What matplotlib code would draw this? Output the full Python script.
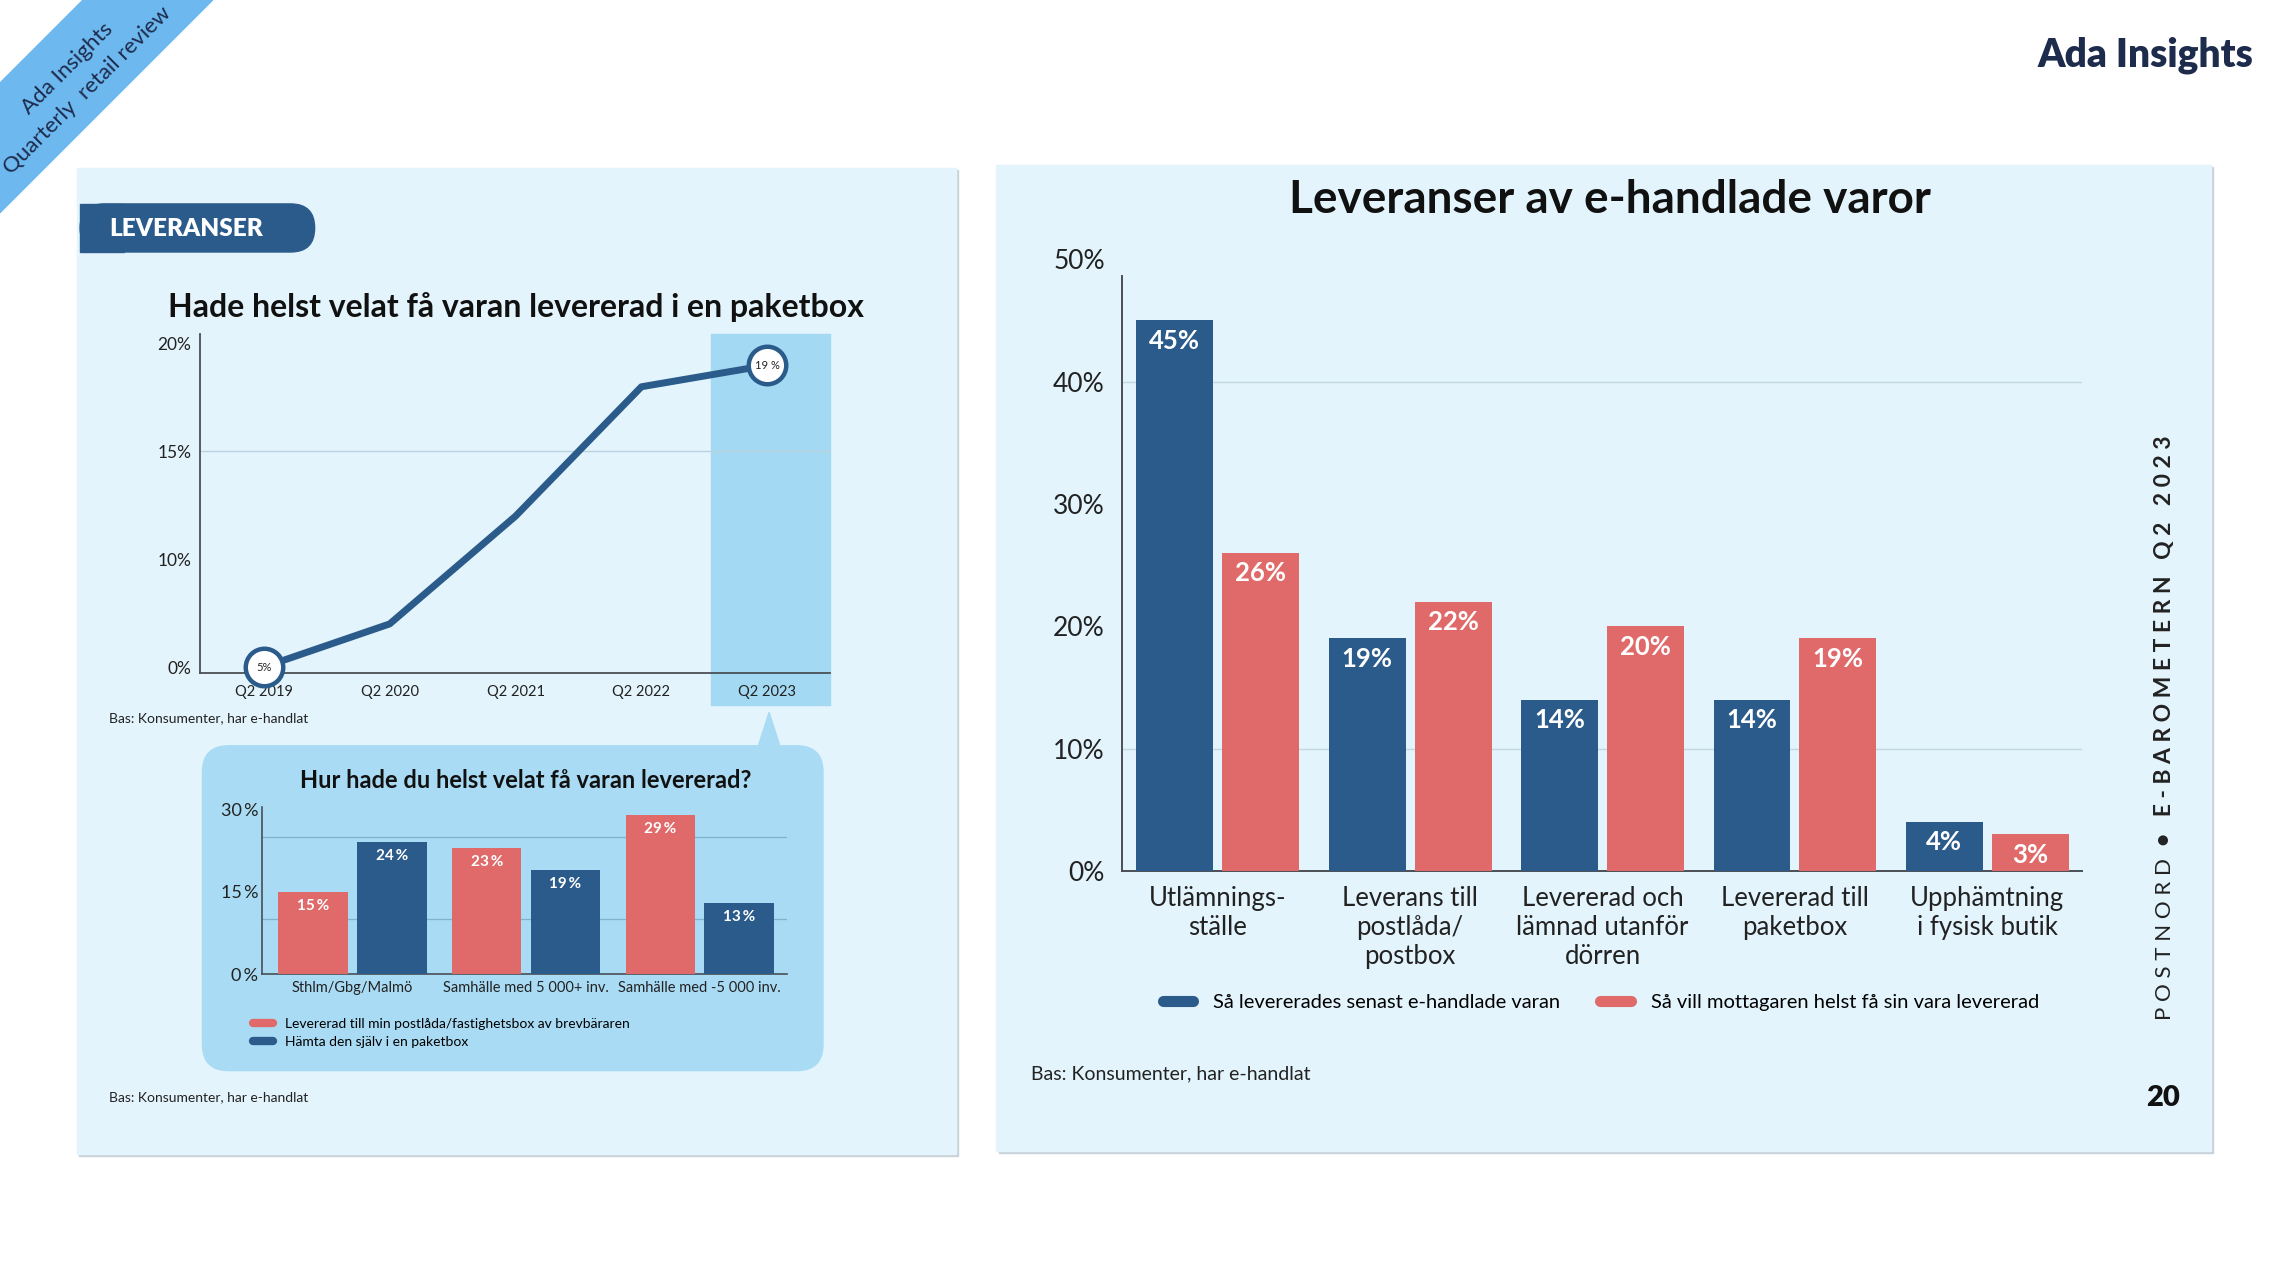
import numpy as np
import matplotlib
matplotlib.use("Agg")
import matplotlib.pyplot as plt
from matplotlib.patches import Rectangle, FancyBboxPatch, Polygon
from matplotlib.lines import Line2D
from matplotlib.transforms import Affine2D

plt.rcParams['font.family'] = ['Lato', 'DejaVu Sans']

# --- data -------------------------------------------------------------
line_quarters = ['Q2 2019', 'Q2 2020', 'Q2 2021', 'Q2 2022', 'Q2 2023']
line_values = [5, 7, 12, 18, 19]
line_ticks = [5, 10, 15, 20]
line_tick_labels = ['0%', '10%', '15%', '20%']

city_groups = ['Sthlm/Gbg/Malmö', 'Samhälle med 5 000+ inv.', 'Samhälle med -5 000 inv.']
city_postlada = [15, 23, 29]
city_paketbox = [24, 19, 13]
city_series = ['Levererad till min postlåda/fastighetsbox av brevbäraren',
               'Hämta den själv i en paketbox']

main_categories = ['Utlämnings-\nställe', 'Leverans till\npostlåda/\npostbox',
                   'Levererad och\nlämnad utanför\ndörren', 'Levererad till\npaketbox',
                   'Upphämtning\ni fysisk butik']
main_senast = [45, 19, 14, 14, 4]
main_helst = [26, 22, 20, 19, 3]
main_series = ['Så levererades senast e-handlade varan',
               'Så vill mottagaren helst få sin vara levererad']

# --- colours ----------------------------------------------------------
BLUE = '#2b5b8b'
RED = '#e06a6a'
PANEL = '#e3f4fc'
BUBBLE = '#a9dcf4'
HIGHLIGHT = '#a3d9f2'
RIBBON = '#6cb8ef'
NAVY = '#1d2b4c'
AXIS = '#4a4f55'

W, H = 1568, 883
fig = plt.figure(figsize=(22.84, 12.86), dpi=100)
fig.patch.set_facecolor('white')
K = 22.84 / W
px = Affine2D().scale(K, -K).translate(0, 12.86) + fig.dpi_scale_trans


def add_ax(l, t, r, b):
    ax = fig.add_axes([l / W, 1 - b / H, (r - l) / W, (b - t) / H])
    ax.set_facecolor('none')
    return ax


def patch(p):
    p.set_transform(px)
    fig.patches.append(p)


# --- page decoration --------------------------------------------------
patch(Polygon([(0, 57), (57, 0), (146, 0), (0, 146)], closed=True, color=RIBBON, zorder=-5))
fig.text(46, 47, 'Ada Insights', transform=px, rotation=45, ha='center', va='center',
         fontsize=16, color=NAVY)
fig.text(60, 62, 'Quarterly  retail review', transform=px, rotation=45, ha='center',
         va='center', fontsize=16, color=NAVY)
fig.text(1547, 38, 'Ada Insights', transform=px, ha='right', va='center',
         fontsize=28, fontweight='heavy', color=NAVY)

# panels with a soft shadow
patch(Rectangle((54.5, 116.5), 603, 677, color='#c8d2d8', zorder=-4))
patch(Rectangle((53, 115), 603, 677, color=PANEL, zorder=-3))
patch(Rectangle((685.5, 114.5), 834, 677, color='#c8d2d8', zorder=-4))
patch(Rectangle((684, 113), 834, 677, color=PANEL, zorder=-3))

# section pill
patch(FancyBboxPatch((55, 140), 161, 33, boxstyle='round,pad=0,rounding_size=16.5',
                     color=BLUE, zorder=-2))
patch(Rectangle((55, 140), 30, 33, color=BLUE, zorder=-2))
fig.text(75, 157.5, 'LEVERANSER', transform=px, ha='left', va='center', fontsize=17.5,
         fontweight='heavy', color='white')

# --- left: line chart -------------------------------------------------
fig.text(354, 211, 'Hade helst velat få varan levererad i en paketbox', transform=px,
         ha='center', va='center', fontsize=23, fontweight='bold', color='#111111')
patch(Rectangle((488, 229), 82, 255, color=HIGHLIGHT, zorder=-2))

ax1 = add_ax(137, 229, 570, 462)
x1 = np.arange(len(line_quarters))
ax1.plot(x1, line_values, color=BLUE, lw=5, solid_capstyle='round', zorder=3)
for i in (0, len(line_values) - 1):
    ax1.plot(x1[i], line_values[i], 'o', ms=27, mfc='white', mec=BLUE, mew=3.2, zorder=4,
             clip_on=False)
    lbl = f'{line_values[i]}%' if i == 0 else f'{line_values[i]} %'
    ax1.text(x1[i], line_values[i], lbl, ha='center', va='center', fontsize=8,
             color='#222222', zorder=5)
ax1.set_xlim(-0.51, 4.5)
ax1.set_ylim(4.73, 20.47)
ax1.set_xticks(x1, line_quarters)
ax1.set_yticks(line_ticks, line_tick_labels)
ax1.axhline(15, color='#b9d3df', lw=1, zorder=1)
for s in ('top', 'right'):
    ax1.spines[s].set_visible(False)
for s in ('left', 'bottom'):
    ax1.spines[s].set_color(AXIS)
    ax1.spines[s].set_linewidth(1.3)
ax1.tick_params(length=0, colors='#222222')
ax1.tick_params(axis='y', labelsize=12.5, pad=6)
ax1.tick_params(axis='x', labelsize=10.5, pad=9)
fig.text(75, 493, 'Bas: Konsumenter, har e-handlat', transform=px, ha='left', va='center',
         fontsize=10, color='#222222')

# --- left: speech bubble with bars -------------------------------------
patch(FancyBboxPatch((139, 512), 426, 223, boxstyle='round,pad=0,rounding_size=18',
                     color=BUBBLE, zorder=-2))
patch(Polygon([(520, 514), (528, 489), (536, 514)], closed=True, color=BUBBLE, zorder=-2))
fig.text(361, 536, 'Hur hade du helst velat få varan levererad?', transform=px,
         ha='center', va='center', fontsize=17, fontweight='bold', color='#111111')

ax2 = add_ax(180, 552, 540, 669)
x2 = np.arange(len(city_groups))
bw, off = 0.40, 0.227
b_red = ax2.bar(x2 - off, city_postlada, bw, color=RED, zorder=3)
b_blue = ax2.bar(x2 + off, city_paketbox, bw, color=BLUE, zorder=3)
for bars, vals in ((b_red, city_postlada), (b_blue, city_paketbox)):
    for rect, v in zip(bars, vals):
        ax2.annotate(f'{v}\u2009%', (rect.get_x() + rect.get_width() / 2, v),
                     xytext=(0, -5), textcoords='offset points', ha='center', va='top',
                     fontsize=11, fontweight='bold', color='white', zorder=4)
ax2.set_xlim(-0.52, 2.5)
ax2.set_ylim(0, 31)
ax2.set_xticks(x2, city_groups)
ax2.set_yticks([0, 15, 30], ['0\u2009%', '15\u2009%', '30\u2009%'])
for g in (10, 25):
    ax2.axhline(g, color='#7fb3cc', lw=0.9, zorder=1)
for s in ('top', 'right'):
    ax2.spines[s].set_visible(False)
for s in ('left', 'bottom'):
    ax2.spines[s].set_color(AXIS)
    ax2.spines[s].set_linewidth(1.2)
ax2.spines['left'].set_bounds(0, 30.5)
ax2.tick_params(length=0, colors='#222222')
ax2.tick_params(axis='y', labelsize=13, pad=3)
ax2.tick_params(axis='x', labelsize=10.5, pad=5)
h2 = [Line2D([0], [0], color=RED, lw=6, solid_capstyle='round'),
      Line2D([0], [0], color=BLUE, lw=6, solid_capstyle='round')]
fig.legend(h2, city_series, loc='upper left', bbox_to_anchor=(169 / W, 1 - 694 / H),
           frameon=False, fontsize=10, handlelength=1.4, handletextpad=0.9, labelspacing=0.45,
           borderpad=0)
fig.text(75, 753, 'Bas: Konsumenter, har e-handlat', transform=px, ha='left', va='center',
         fontsize=10, color='#222222')

# --- right: main bar chart --------------------------------------------
fig.text(1105, 137, 'Leveranser av e-handlade varor', transform=px, ha='center',
         va='center', fontsize=33, fontweight='bold', color='#111111')
ax3 = add_ax(770, 178, 1429, 598)
x3 = np.arange(len(main_categories))
bw3, off3 = 0.40, 0.223
r_blue = ax3.bar(x3 - off3, main_senast, bw3, color=BLUE, zorder=3)
r_red = ax3.bar(x3 + off3, main_helst, bw3, color=RED, zorder=3)
for bars, vals in ((r_blue, main_senast), (r_red, main_helst)):
    for rect, v in zip(bars, vals):
        ax3.annotate(f'{v}%', (rect.get_x() + rect.get_width() / 2, v), xytext=(0, -6),
                     textcoords='offset points', ha='center', va='top', fontsize=18.5,
                     fontweight='bold', color='white', zorder=4)
ax3.set_xlim(-0.5, 4.49)
ax3.set_ylim(0, 50)
ax3.set_xticks(x3, main_categories)
ax3.set_yticks(np.arange(0, 51, 10), [f'{v}%' for v in range(0, 51, 10)])
for g in (10, 40):
    ax3.axhline(g, color='#c3d6df', lw=1, zorder=1)
for s in ('top', 'right'):
    ax3.spines[s].set_visible(False)
for s in ('left', 'bottom'):
    ax3.spines[s].set_color(AXIS)
    ax3.spines[s].set_linewidth(1.4)
ax3.spines['left'].set_bounds(0, 48.6)
ax3.tick_params(length=0, colors='#222222')
ax3.tick_params(axis='y', labelsize=19, pad=12)
ax3.tick_params(axis='x', labelsize=18.5, pad=11)
h3 = [Line2D([0], [0], color=BLUE, lw=8, solid_capstyle='round'),
      Line2D([0], [0], color=RED, lw=8, solid_capstyle='round')]
fig.legend(h3, main_series, loc='center', bbox_to_anchor=(1099 / W, 1 - 688 / H),
           frameon=False, fontsize=14.5, ncol=2, handlelength=1.5, handletextpad=1.0,
           columnspacing=2.0)
fig.text(708, 737, 'Bas: Konsumenter, har e-handlat', transform=px, ha='left', va='center',
         fontsize=14, color='#222222')
fig.text(1485, 754, '20', transform=px, ha='center', va='center', fontsize=21,
         fontweight='heavy', color='#111111')
fig.text(1486, 700, 'P O S T N O R D', transform=px, rotation=90, ha='center', va='bottom',
         fontsize=16, color='#222222')
fig.text(1486, 581, '•   E - B A R O M E T E R N   Q 2   2 0 2 3', transform=px,
         rotation=90, ha='center', va='bottom', fontsize=16.5, fontweight='bold',
         color='#222222')

fig.savefig('out.png', dpi=100)
